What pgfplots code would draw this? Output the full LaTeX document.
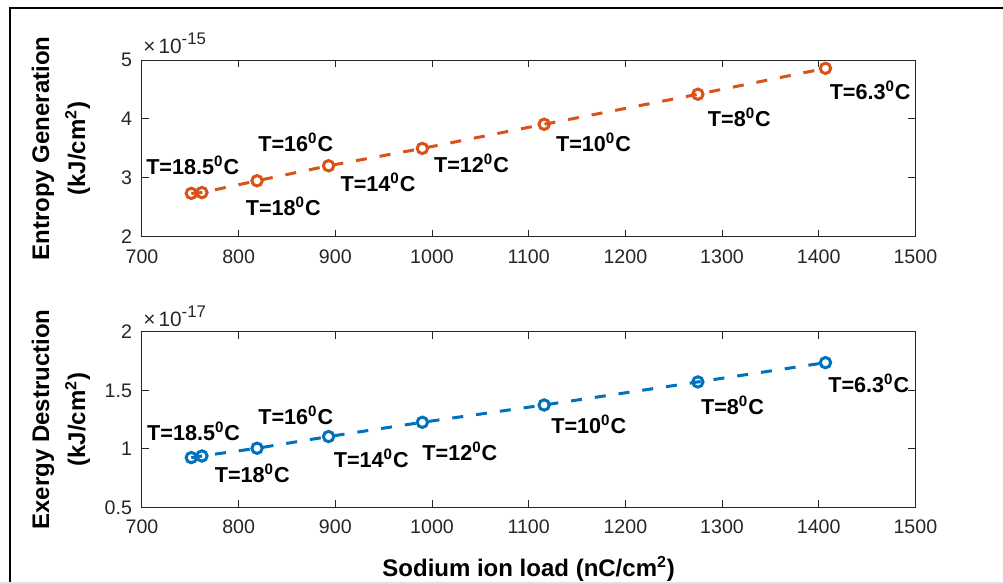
\documentclass[border=0pt]{standalone}
\usepackage{fontspec}
\setmainfont{Liberation Sans}
\usepackage{pgfplots}
\pgfplotsset{compat=1.18}
\definecolor{morange}{HTML}{D95319}
\definecolor{mblue}{HTML}{0072BD}
\definecolor{axcol}{HTML}{262626}
\pgfplotsset{
  mystyle/.style={
    scale only axis, width=386.7pt,
    xmin=700, xmax=1500, xtick={700,800,...,1500},
    axis line style={axcol, line width=0.5pt},
    tick style={axcol, line width=0.5pt},
    major tick length=3.5pt,
    tick align=inside,
    xtick pos=both, ytick pos=both,
    ticklabel style={font=\fontsize{9.8}{11}\selectfont, text=axcol},
    /pgf/number format/assume math mode=true,
    /pgf/number format/1000 sep={},
    scaled ticks=false,
    xticklabel style={yshift=-2.8pt},
    yticklabel style={xshift=-1.5pt},
    ylabel style={at={(axis description cs:-0.105,0.5)}, anchor=center, font=\bfseries\fontsize{12}{18}\selectfont, align=center},
    clip=false,
  },
}
\tikzset{
  ann/.style={anchor=west, inner sep=0pt, font=\bfseries\fontsize{10.8}{12}\selectfont, text=black},
  fac/.style={anchor=base west, inner sep=0pt, font=\fontsize{10.4}{12}\selectfont, text=axcol},
}
\newcommand{\facsup}[1]{\raisebox{4.6pt}{\fontsize{8.4}{9}\selectfont #1}}
\begin{document}
\begin{tikzpicture}
\path[use as bounding box] (0,0) rectangle (501.5pt,292pt);
\draw[black, line width=1pt] (5pt,0) -- (5pt,287.85pt) -- (501.5pt,287.85pt);
\draw[black!12, line width=0.8pt] (0,0.6pt) -- (501.5pt,0.6pt);
% top axis
\begin{axis}[mystyle, height=88.3pt, at={(71pt,173.65pt)}, anchor=south west,
  ymin=2, ymax=5, ytick={2,3,4,5},
  ylabel={Entropy Generation\\(kJ/cm\textsuperscript{2})}]
\addplot[morange, line width=1.5pt, dash pattern=on 5.5pt off 6.5pt, mark=o, mark size=2.6pt, mark options={solid, line width=1.5pt}]
 coordinates {(751,2.736) (762,2.75) (819,2.95) (893,3.205) (990,3.50) (1116,3.91) (1275,4.42) (1407,4.86)};
\node[fac] at ([xshift=0.5pt,yshift=3.3pt]rel axis cs:0,1) {×\hspace{1.5pt}10\facsup{-15}};
\node[ann] at (axis cs:704,3.22) {T=18.5\textsuperscript{0}C};
\node[ann] at (axis cs:820,3.61) {T=16\textsuperscript{0}C};
\node[ann] at (axis cs:807,2.51) {T=18\textsuperscript{0}C};
\node[ann] at (axis cs:905,2.93) {T=14\textsuperscript{0}C};
\node[ann] at (axis cs:1001.7,3.245) {T=12\textsuperscript{0}C};
\node[ann] at (axis cs:1128,3.61) {T=10\textsuperscript{0}C};
\node[ann] at (axis cs:1285,4.03) {T=8\textsuperscript{0}C};
\node[ann] at (axis cs:1411,4.48) {T=6.3\textsuperscript{0}C};
\end{axis}
% bottom axis
\begin{axis}[mystyle, height=87.7pt, at={(71pt,38.35pt)}, anchor=south west,
  ymin=0.5, ymax=2, ytick={0.5,1,1.5,2},
  ylabel={Exergy Destruction\\(kJ/cm\textsuperscript{2})},
  xlabel={Sodium ion load (nC/cm\textsuperscript{2})},
  xlabel style={at={(axis description cs:0.5,-0.352)}, anchor=center, font=\bfseries\fontsize{12}{14}\selectfont}]
\addplot[mblue, line width=1.5pt, dash pattern=on 5.5pt off 6.5pt, mark=o, mark size=2.6pt, mark options={solid, line width=1.5pt}]
 coordinates {(751,0.925) (762,0.939) (819,1.005) (893,1.105) (990,1.227) (1116,1.375) (1275,1.572) (1407,1.737)};
\node[fac] at ([xshift=0.5pt,yshift=2.7pt]rel axis cs:0,1) {×\hspace{1.5pt}10\facsup{-17}};
\node[ann] at (axis cs:705,1.147) {T=18.5\textsuperscript{0}C};
\node[ann] at (axis cs:820,1.29) {T=16\textsuperscript{0}C};
\node[ann] at (axis cs:775,0.79) {T=18\textsuperscript{0}C};
\node[ann] at (axis cs:898,0.92) {T=14\textsuperscript{0}C};
\node[ann] at (axis cs:989.7,0.976) {T=12\textsuperscript{0}C};
\node[ann] at (axis cs:1123,1.213) {T=10\textsuperscript{0}C};
\node[ann] at (axis cs:1278,1.375) {T=8\textsuperscript{0}C};
\node[ann] at (axis cs:1409.6,1.56) {T=6.3\textsuperscript{0}C};
\end{axis}
\end{tikzpicture}
\end{document}
